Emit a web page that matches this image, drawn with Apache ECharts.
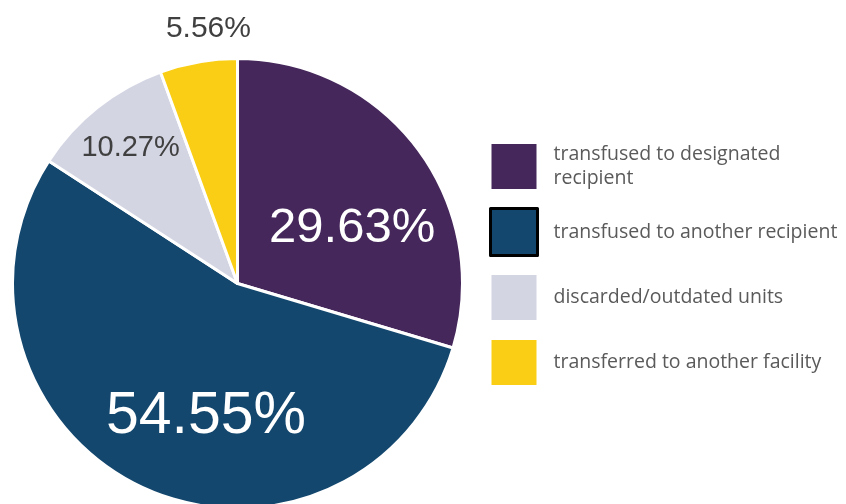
<!DOCTYPE html>
<html>
<head>
<meta charset="utf-8">
<script src="https://cdn.jsdelivr.net/npm/echarts@6/dist/echarts.min.js"></script>
<style>
html,body{margin:0;padding:0;background:#fff;}
#chart{width:846px;height:504px;}
</style>
</head>
<body>
<div id="chart"></div>
<script>
const categories = [
  'transfused to designated recipient',
  'transfused to another recipient',
  'discarded/outdated units',
  'transferred to another facility'
];
const values = [29.63, 54.55, 10.27, 5.56];
const labelTexts = ['29.63%', '54.55%', '10.27%', '5.56%'];
const colors = ['#45275B', '#13476E', '#D3D5E3', '#F9CE14'];

const labelStyles = [
  {fontSize: 49, color: '#ffffff', offset: [22, 14]},
  {fontSize: 59, color: '#ffffff', offset: [17, 28]},
  {fontSize: 29, color: '#404040', offset: [-35, -45]},
  {fontSize: 30, color: '#404040', offset: [-9, -141]}
];

const chart = echarts.init(document.getElementById('chart'), null, {renderer: 'canvas'});
chart.setOption({
  animation: false,
  backgroundColor: '#ffffff',
  legend: {
    orient: 'vertical',
    left: 489,
    top: 142,
    padding: 0,
    itemWidth: 47,
    itemHeight: 47,
    itemGap: 16,
    icon: 'rect',
    selectedMode: false,
    textStyle: {
      fontFamily: 'Open Sans',
      fontSize: 19.5,
      lineHeight: 23.5,
      color: '#5a5a5a',
      padding: [0, 0, 0, 11]
    },
    formatter: function (name) {
      return name === categories[0] ? 'transfused to designated\nrecipient' : name;
    },
    data: categories.map(function (c, i) {
      if (i === 1) {
        return {name: c, itemStyle: {borderColor: '#000000', borderWidth: 3}};
      }
      return {name: c};
    })
  },
  series: [{
    type: 'pie',
    center: [237.5, 283.5],
    radius: [0, 225],
    startAngle: 90,
    clockwise: true,
    avoidLabelOverlap: false,
    emphasis: {disabled: true},
    itemStyle: {borderColor: '#ffffff', borderWidth: 3},
    labelLine: {show: false},
    data: categories.map(function (c, i) {
      return {
        name: c,
        value: values[i],
        itemStyle: {color: colors[i]},
        label: {
          show: true,
          position: 'inside',
          formatter: labelTexts[i],
          fontFamily: 'Liberation Sans',
          fontSize: labelStyles[i].fontSize,
          color: labelStyles[i].color,
          offset: labelStyles[i].offset
        }
      };
    })
  }]
});
</script>
</body>
</html>
